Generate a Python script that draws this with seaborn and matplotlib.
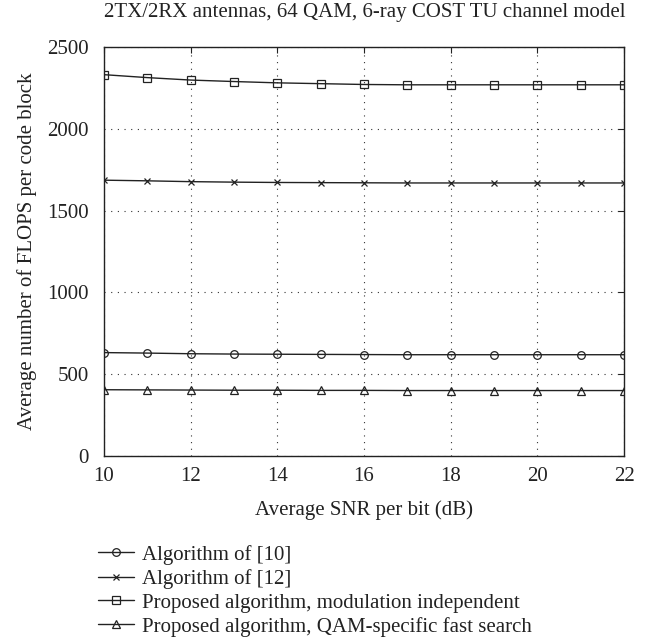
import numpy as np
import pandas as pd
import matplotlib
matplotlib.use("Agg")
import matplotlib.pyplot as plt
import seaborn as sns

# ---------------------------------------------------------
# Data
# ---------------------------------------------------------
snr = [10, 11, 12, 13, 14, 15, 16, 17, 18, 19, 20, 21, 22]
alg10 = [632, 629, 625, 623, 622, 621, 620, 619, 619, 619, 619, 619, 619]
alg12 = [1686, 1682, 1677, 1674, 1672, 1671, 1670, 1669, 1669, 1669, 1669, 1669, 1669]
prop_mod = [2331, 2313, 2298, 2289, 2281, 2276, 2271, 2269, 2269, 2269, 2269, 2269, 2269]
prop_qam = [405, 404, 403, 402, 402, 401, 401, 400, 400, 400, 400, 400, 400]

labels = ["Algorithm of [10]", "Algorithm of [12]",
          "Proposed algorithm, modulation independent",
          "Proposed algorithm, QAM-specific fast search"]
markers = ["o", "x", "s", "^"]

df = pd.DataFrame({"snr": snr * 4,
                   "flops": alg10 + alg12 + prop_mod + prop_qam,
                   "algo": np.repeat(labels, len(snr))})

sns.set_theme(style="white")
plt.rcParams["font.family"] = ["Liberation Serif", "DejaVu Serif"]
plt.rcParams["xtick.direction"] = "in"
plt.rcParams["ytick.direction"] = "in"

FS = 15
ink = "#222222"

fig = plt.figure(figsize=(6.48, 6.38), dpi=100)
ax = fig.add_axes([0.1605, 0.2853, 0.8025, 0.641])

for lab, m in zip(labels, markers):
    sub = df[df["algo"] == lab]
    sns.lineplot(data=sub, x="snr", y="flops", ax=ax, color=ink,
                 linewidth=1.0, marker=m, markersize=5.5 if m != "x" else 4.5,
                 markerfacecolor="none", markeredgecolor=ink,
                 markeredgewidth=0.9, label=lab, legend=False)

ax.set_xlim(10, 22)
ax.set_ylim(0, 2500)
ax.set_xticks(range(10, 23, 2))
ax.set_yticks(range(0, 2501, 500))
ax.grid(True, linestyle=(0, (1, 5)), color="#333333", linewidth=0.8)
ax.tick_params(axis="both", top=True, right=True, labelsize=FS, length=4,
               width=0.8, colors=ink)
ax.tick_params(axis="x", pad=8)
ax.tick_params(axis="y", pad=11)
for s in ax.spines.values():
    s.set_color(ink)
    s.set_linewidth(1.0)

ax.set_xlabel("Average SNR per bit (dB)", fontsize=FS, labelpad=10, color=ink)
ax.set_ylabel("Average number of FLOPS per code block", fontsize=FS,
              labelpad=7, color=ink)
fig.text(0.5625, 1 - 13 / 638, "2TX/2RX antennas, 64 QAM, 6-ray COST TU channel model",
         ha="center", va="center", fontsize=FS, color=ink)

handles, labs = ax.get_legend_handles_labels()
fig.legend(handles, labs, loc="upper left", bbox_to_anchor=(0.151, 0.146),
           frameon=False, fontsize=FS, handlelength=1.75, handletextpad=0.35,
           labelspacing=0.2, borderpad=0, borderaxespad=0, labelcolor=ink)

fig.savefig("out.png", dpi=100)
